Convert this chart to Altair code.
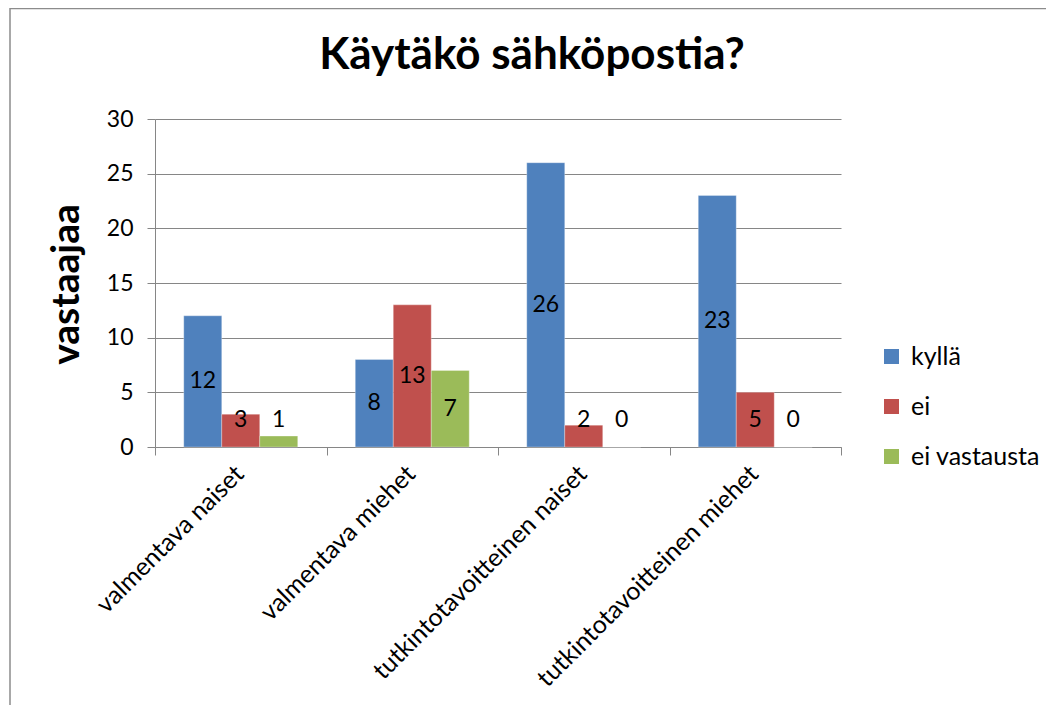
import altair as alt
import pandas as pd

categories = ["valmentava naiset", "valmentava miehet",
              "tutkintotavoitteinen naiset", "tutkintotavoitteinen miehet"]
series = ["kyllä", "ei", "ei vastausta"]
kylla = [12, 8, 26, 23]
ei = [3, 13, 2, 5]
ei_vastausta = [1, 7, 0, 0]
y_ticks = [0, 5, 10, 15, 20, 25, 30]
colors = ["#4F81BD", "#C0504D", "#9BBB59"]

rows = []
for s, vals in zip(series, [kylla, ei, ei_vastausta]):
    for c, v in zip(categories, vals):
        rows.append({"ryhma": c, "vastaus": s, "arvo": v})
df = pd.DataFrame(rows)

FONT = "Lato"
GRAY = "#868686"
W, H = 686, 328
FS = 24

x_enc = alt.X(
    "ryhma:N", sort=categories, title=None,
    scale=alt.Scale(paddingInner=0, paddingOuter=0),
    axis=alt.Axis(labelAngle=315, labelAlign="right", labelBaseline="top",
                  labelPadding=6, labelOffset=-10, labelFontSize=25,
                  labelFont=FONT, labelColor="#000000", labelLimit=400,
                  tickBand="extent", tickSize=8, tickColor=GRAY,
                  domainColor=GRAY, grid=False),
)
xoff = alt.XOffset("vastaus:N", sort=series,
                   scale=alt.Scale(paddingInner=0, paddingOuter=0.757))
y_enc = alt.Y(
    "arvo:Q", title="vastaajaa",
    scale=alt.Scale(domain=[0, 30], nice=False),
    axis=alt.Axis(values=y_ticks, tickSize=8, tickColor=GRAY, domainColor=GRAY,
                  gridColor=GRAY, labelFontSize=FS - 1, labelFont=FONT,
                  labelColor="#000000", labelPadding=14,
                  titleFont=FONT, titleFontSize=39, titleFontWeight="bold",
                  titleColor="#000000", titleAngle=270, titleX=-89, titleY=165,
                  titleAlign="center", titleBaseline="middle"),
)
color_enc = alt.Color(
    "vastaus:N", sort=series, title=None,
    scale=alt.Scale(domain=series, range=colors),
    legend=alt.Legend(orient="none", legendX=724, legendY=225,
                      symbolType="square", symbolSize=225, symbolStrokeWidth=0,
                      labelFontSize=25, labelFont=FONT, labelColor="#000000",
                      labelOffset=7, rowPadding=24, labelLimit=300),
)

border = alt.Chart(pd.DataFrame({"k": [0]})).mark_rect(
    fillOpacity=0, stroke="#8c8c8c", strokeWidth=1.5
).encode(x=alt.value(-145), x2=alt.value(892), y=alt.value(-110.5), y2=alt.value(700))

bars = alt.Chart(df).mark_bar(stroke="white", strokeWidth=0.5, strokeOpacity=0.6).encode(
    x=x_enc, xOffset=xoff, y=y_enc, color=color_enc
)

labels = alt.Chart(df).transform_calculate(
    ypos="max(datum.arvo / 2, 2.45)"
).mark_text(font=FONT, fontSize=FS - 1, color="#000000", baseline="middle").encode(
    x=alt.X("ryhma:N", sort=categories),
    xOffset=alt.XOffset("vastaus:N", sort=series),
    y=alt.Y("ypos:Q"),
    text=alt.Text("arvo:Q"),
)

chart = alt.layer(border, bars, labels).properties(
    width=W, height=H,
    autosize=alt.AutoSizeParams(type="none"),
    padding={"left": 147, "top": 111, "right": 205, "bottom": 258},
    title=alt.TitleParams("Käytäkö sähköpostia?", font=FONT, fontSize=44,
                          fontWeight="bold", color="#000000", anchor="middle",
                          frame="group", dx=34, offset=0, dy=105,
                          baseline="alphabetic"),
).configure_view(stroke=None).configure_axisX(grid=False)

chart.save("out.html", embed_options={"renderer": "svg", "actions": False})
